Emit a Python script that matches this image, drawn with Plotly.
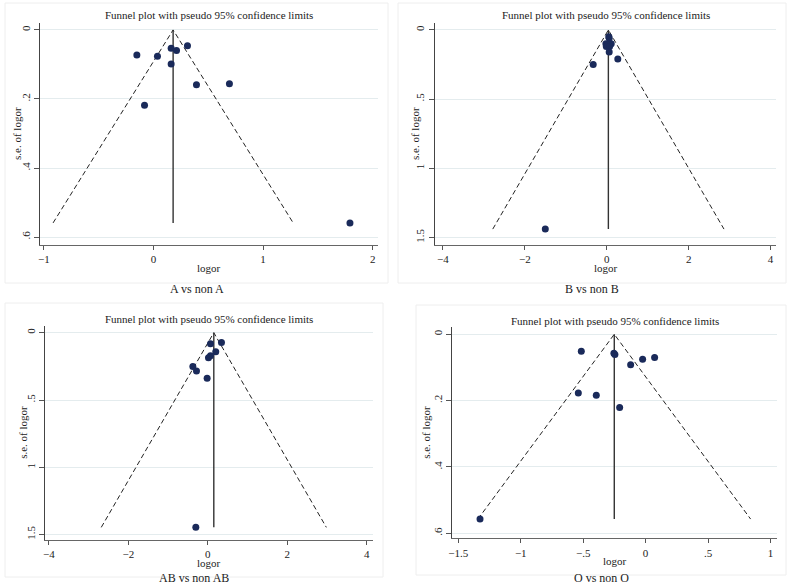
import plotly.graph_objects as go

W, H = 787, 584

# ---------------- data ----------------
a_logor = [-0.152, 0.036, 0.161, 0.21, 0.31, 0.161, 0.392, 0.693, -0.082, 1.793]
a_se = [0.073, 0.076, 0.053, 0.060, 0.046, 0.099, 0.159, 0.156, 0.218, 0.559]
a_pooled = 0.179

b_logor = [0.05, 0.06, 0.11, -0.02, -0.01, 0.07, 0.06, 0.27, -0.33, -1.50]
b_se = [0.05, 0.06, 0.10, 0.10, 0.12, 0.12, 0.16, 0.21, 0.25, 1.44]
b_pooled = 0.04

ab_logor = [0.344, 0.067, 0.20, 0.067, 0.017, -0.377, -0.285, -0.017, -0.302]
ab_se = [0.072, 0.082, 0.141, 0.171, 0.186, 0.252, 0.285, 0.339, 1.446]
ab_pooled = 0.151

o_logor = [-0.515, -0.254, -0.246, 0.072, -0.024, -0.12, -0.539, -0.395, -0.208, -1.326]
o_se = [0.051, 0.057, 0.061, 0.070, 0.075, 0.092, 0.177, 0.184, 0.221, 0.557]
o_pooled = -0.251

a_xticks = [-1, 0, 1, 2]
a_xlabels = ["\u22121", "0", "1", "2"]
a_yticks = [0, 0.2, 0.4, 0.6]
a_ylabels = ["0", ".2", ".4", ".6"]

b_xticks = [-4, -2, 0, 2, 4]
b_xlabels = ["\u22124", "\u22122", "0", "2", "4"]
b_yticks = [0, 0.5, 1, 1.5]
b_ylabels = ["0", ".5", "1", "1.5"]

o_xticks = [-1.5, -1, -0.5, 0, 0.5, 1]
o_xlabels = ["\u22121.5", "\u22121", "\u2212.5", "0", ".5", "1"]

panel_captions = ["A vs non A", "B vs non B", "AB vs non AB", "O vs non O"]
plot_title = "Funnel plot with pseudo 95% confidence limits"
x_title = "logor"
y_title = "s.e. of logor"

# ---------------- layout geometry (pixels) ----------------
panels = [
    dict(xs=a_logor, ys=a_se, theta=a_pooled, px=(40, 378), py=(23, 245),
         xr=[-1.036, 2.049], yr=[0.623, -0.02], xt=a_xticks, xl=a_xlabels,
         yt=a_yticks, yl=a_ylabels, box=(5, 3, 388, 283), cap_y=289,
         title_y=15, xtitle_y=268, ytitle_x=17),
    dict(xs=b_logor, ys=b_se, theta=b_pooled, px=(434.7, 776.3), py=(23, 245),
         xr=[-4.2, 4.14], yr=[1.555, -0.05], xt=b_xticks, xl=b_xlabels,
         yt=b_yticks, yl=b_ylabels, box=(398, 3, 786, 283), cap_y=289,
         title_y=15, xtitle_y=268, ytitle_x=415),
    dict(xs=ab_logor, ys=ab_se, theta=ab_pooled, px=(45, 373), py=(325.7, 540),
         xr=[-4.1, 4.16], yr=[1.54, -0.052], xt=b_xticks, xl=b_xlabels,
         yt=b_yticks, yl=b_ylabels, box=(5, 303, 383, 577), cap_y=578,
         title_y=319, xtitle_y=563, ytitle_x=23),
    dict(xs=o_logor, ys=o_se, theta=o_pooled, px=(452.3, 777), py=(327.3, 538.3),
         xr=[-1.548, 1.052], yr=[0.615, -0.021], xt=o_xticks, xl=o_xlabels,
         yt=a_yticks, yl=a_ylabels, box=(416, 305, 786, 575), cap_y=578,
         title_y=321, xtitle_y=561, ytitle_x=426),
]

FONT = "Liberation Serif, Times New Roman, serif"
DOT = "#1a2a5a"
GRID = "#e4ecee"

fig = go.Figure()
annotations = []
shapes = []

for i, p in enumerate(panels):
    n = "" if i == 0 else str(i + 1)
    xa, ya = "x" + n, "y" + n
    max_se = max(p["ys"])
    th = p["theta"]
    # pseudo 95% limits
    fig.add_trace(go.Scatter(
        x=[th - 1.96 * max_se, th, th + 1.96 * max_se], y=[max_se, 0, max_se],
        mode="lines", line=dict(color="#222", width=1, dash="5px,3px"),
        xaxis=xa, yaxis=ya, showlegend=False, hoverinfo="skip"))
    # pooled estimate line
    fig.add_trace(go.Scatter(
        x=[th, th], y=[0, max_se], mode="lines",
        line=dict(color="#333", width=1.4),
        xaxis=xa, yaxis=ya, showlegend=False, hoverinfo="skip"))
    # studies
    fig.add_trace(go.Scatter(
        x=p["xs"], y=p["ys"], mode="markers",
        marker=dict(color=DOT, size=7),
        xaxis=xa, yaxis=ya, showlegend=False))

    x0, x1 = p["px"]
    y0, y1 = p["py"]
    xdom = [x0 / W, x1 / W]
    ydom = [1 - y1 / H, 1 - y0 / H]
    fig.layout["xaxis" + n] = dict(
        domain=xdom, range=p["xr"], anchor=ya, tickvals=p["xt"], ticktext=p["xl"],
        automargin=False,
        showgrid=False, zeroline=False, showline=True, linecolor="#666", linewidth=1,
        ticks="outside", ticklen=4, tickcolor="#555",
        tickfont=dict(family=FONT, size=11, color="#222"))
    fig.layout["yaxis" + n] = dict(
        domain=ydom, range=p["yr"], anchor=xa, tickvals=p["yt"], ticktext=p["yl"],
        automargin=False,
        showgrid=True, gridcolor=GRID, gridwidth=1, zeroline=False,
        showline=True, linecolor="#444", linewidth=1.2,
        ticks="outside", ticklen=5, tickcolor="#555", tickangle=-90,
        tickfont=dict(family=FONT, size=11, color="#222"))

    bx0, by0, bx1, by1 = p["box"]
    shapes.append(dict(type="rect", xref="paper", yref="paper",
                       x0=bx0 / W, x1=bx1 / W, y0=1 - by1 / H, y1=1 - by0 / H,
                       line=dict(color="#eeeeee", width=1), fillcolor="rgba(0,0,0,0)",
                       layer="below"))
    cx = (x0 + x1) / 2
    common = dict(xref="paper", yref="paper", showarrow=False,
                  xanchor="center", yanchor="middle")
    annotations.append(dict(text=plot_title, x=cx / W, y=1 - p["title_y"] / H,
                            font=dict(family=FONT, size=11, color="#222"), **common))
    annotations.append(dict(text=x_title, x=cx / W, y=1 - p["xtitle_y"] / H,
                            font=dict(family=FONT, size=11, color="#222"), **common))
    annotations.append(dict(text=y_title, x=p["ytitle_x"] / W, y=1 - ((y0 + y1) / 2) / H,
                            textangle=-90,
                            font=dict(family=FONT, size=11, color="#222"), **common))
    annotations.append(dict(text=panel_captions[i], x=((bx0 + bx1) / 2) / W,
                            y=1 - p["cap_y"] / H,
                            font=dict(family=FONT, size=12, color="#222"), **common))

fig.update_layout(template="none", width=W, height=H,
                  margin=dict(l=0, r=0, t=0, b=0, autoexpand=False),
                  paper_bgcolor="white", plot_bgcolor="white",
                  annotations=annotations, shapes=shapes)
fig.write_html("out.html", config={"displayModeBar": False},
               post_script="document.body.style.margin='0';document.body.style.overflow='hidden';")
